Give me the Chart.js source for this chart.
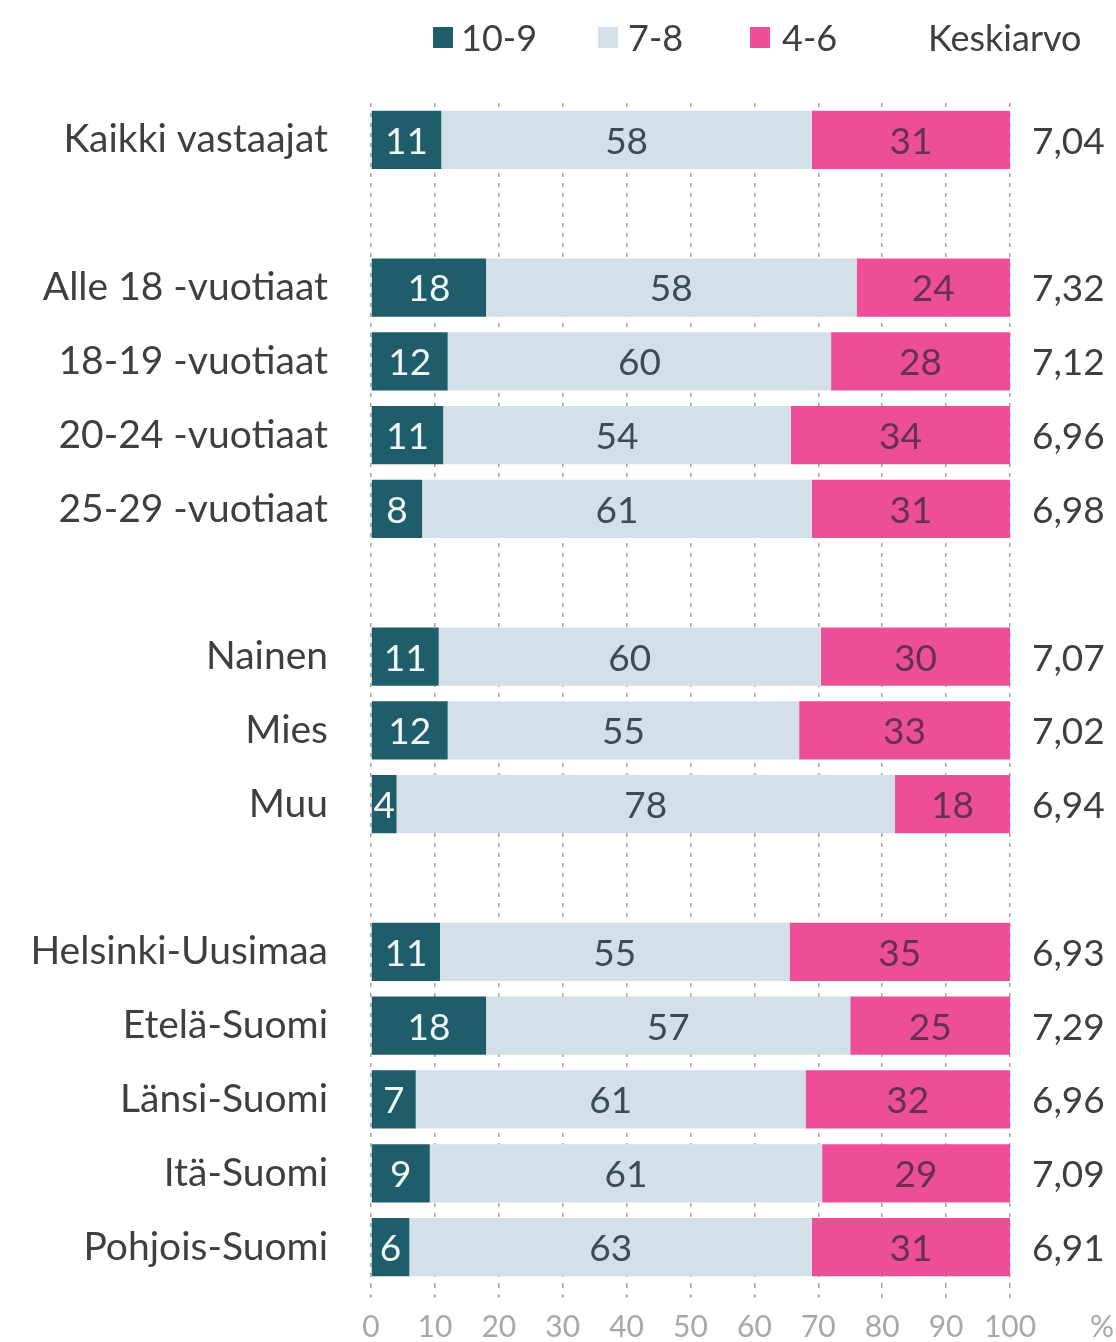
<!DOCTYPE html>
<html>
<head>
<meta charset="utf-8">
<script src="https://cdn.jsdelivr.net/npm/chart.js@4"></script>
<style>
  html, body { margin: 0; padding: 0; background: #fff; }
  #wrap { position: relative; width: 1116px; height: 1342px; }
  #legend { position: absolute; top: 14px; left: 0; width: 1116px; height: 46px;
            font-family: Lato, sans-serif; font-size: 36px; color: #3f3f3f; }
  #legend span { position: absolute; top: 0; line-height: 46px; }
  #legend i { position: absolute; top: 13px; width: 20px; height: 21px; }
</style>
</head>
<body>
<div id="wrap">
  <canvas id="chart" width="1116" height="1342"></canvas>
  <div id="legend">
    <i style="left:433px;background:#1f5d6b"></i><span style="left:461px">10-9</span>
    <i style="left:598px;background:#d3e0e7"></i><span style="left:628px">7-8</span>
    <i style="left:750px;background:#ec4f98"></i><span style="left:782px">4-6</span>
    <span style="left:928px">Keskiarvo</span>
  </div>
</div>
<script>
// ============================
// Data
// ============================
const categories = [
  "Kaikki vastaajat", "",
  "Alle 18 -vuotiaat", "18-19 -vuotiaat", "20-24 -vuotiaat", "25-29 -vuotiaat", "",
  "Nainen", "Mies", "Muu", "",
  "Helsinki-Uusimaa", "Etelä-Suomi", "Länsi-Suomi", "Itä-Suomi", "Pohjois-Suomi"
];
// shares in % (labels show rounded values)
const high = [11, null, 18, 12, 11.3, 8, null, 10.6, 12, 4, null, 10.8, 18, 7, 9.2, 6];
const mid  = [58, null, 58, 60, 54.4, 61, null, 59.8, 55, 78, null, 54.7, 57, 61, 61.4, 63];
const low  = [31, null, 24, 28, 34.3, 31, null, 29.6, 33, 18, null, 34.5, 25, 32, 29.4, 31];
const means = ["7,04", "", "7,32", "7,12", "6,96", "6,98", "", "7,07", "7,02", "6,94", "",
               "6,93", "7,29", "6,96", "7,09", "6,91"];
const xTicks = [0, 10, 20, 30, 40, 50, 60, 70, 80, 90, 100];

const FONT = "Lato, sans-serif";

// ============================
// Labels inside bars + mean column
// ============================
const textPlugin = {
  id: "textPlugin",
  afterDatasetsDraw(chart) {
    const ctx = chart.ctx;
    ctx.save();
    ctx.font = "37px " + FONT;
    ctx.textAlign = "center";
    ctx.textBaseline = "middle";
    chart.data.datasets.forEach((ds, di) => {
      const meta = chart.getDatasetMeta(di);
      meta.data.forEach((bar, i) => {
        const v = ds.data[i];
        if (v == null) return;
        ctx.fillStyle = ds.labelColor;
        ctx.fillText(Math.round(v), (bar.x + bar.base) / 2, bar.y + 2);
      });
    });

    const yScale = chart.scales.y;
    const area = chart.chartArea;
    ctx.textAlign = "left";
    ctx.fillStyle = "#3f3f3f";
    means.forEach((m, i) => {
      if (m) ctx.fillText(m, area.right + 22, yScale.getPixelForValue(i) + 2);
    });

    // unit next to the x ticks
    ctx.font = "30px " + FONT;
    ctx.fillStyle = "#a8a8a8";
    ctx.fillText("%", area.right + 80, 1327);
    ctx.restore();
  }
};

// ============================
// Chart
// ============================
new Chart(document.getElementById("chart"), {
  type: "bar",
  data: {
    labels: categories,
    datasets: [
      { label: "10-9", data: high, backgroundColor: "#1f5d6b", labelColor: "#eef6f7" },
      { label: "7-8", data: mid, backgroundColor: "#d3e0e7", labelColor: "#3c4c56" },
      { label: "4-6", data: low, backgroundColor: "#ec4f98", labelColor: "#66304f" }
    ]
  },
  options: {
    indexAxis: "y",
    responsive: false,
    animation: false,
    barPercentage: 0.79,
    categoryPercentage: 1,
    layout: { padding: { top: 103, right: 106, left: 0, bottom: 0 } },
    plugins: {
      legend: { display: false },
      tooltip: { enabled: false }
    },
    scales: {
      x: {
        stacked: true,
        min: 0,
        max: 100,
        afterBuildTicks: (scale) => { scale.ticks = xTicks.map((v) => ({ value: v })); },
        border: { display: false, dash: [4, 6] },
        grid: {
          color: "#a2a2a2",
          lineWidth: 1.5,
          drawTicks: true,
          tickLength: 15,
          tickBorderDash: [4, 6],
          tickColor: "#a2a2a2"
        },
        ticks: {
          padding: 10,
          color: "#a8a8a8",
          font: { family: FONT, size: 30 }
        },
        afterFit: (scale) => { scale.height = 58; }
      },
      y: {
        stacked: true,
        border: { display: false },
        grid: { display: false, drawTicks: false },
        ticks: {
          padding: 43,
          color: "#3f3f3f",
          font: { family: FONT, size: 39 }
        },
        afterFit: (scale) => {
          scale.width = 371;
          scale.paddingTop = 0;
          scale.paddingBottom = 0;
        }
      }
    }
  },
  plugins: [textPlugin]
});
</script>
</body>
</html>
